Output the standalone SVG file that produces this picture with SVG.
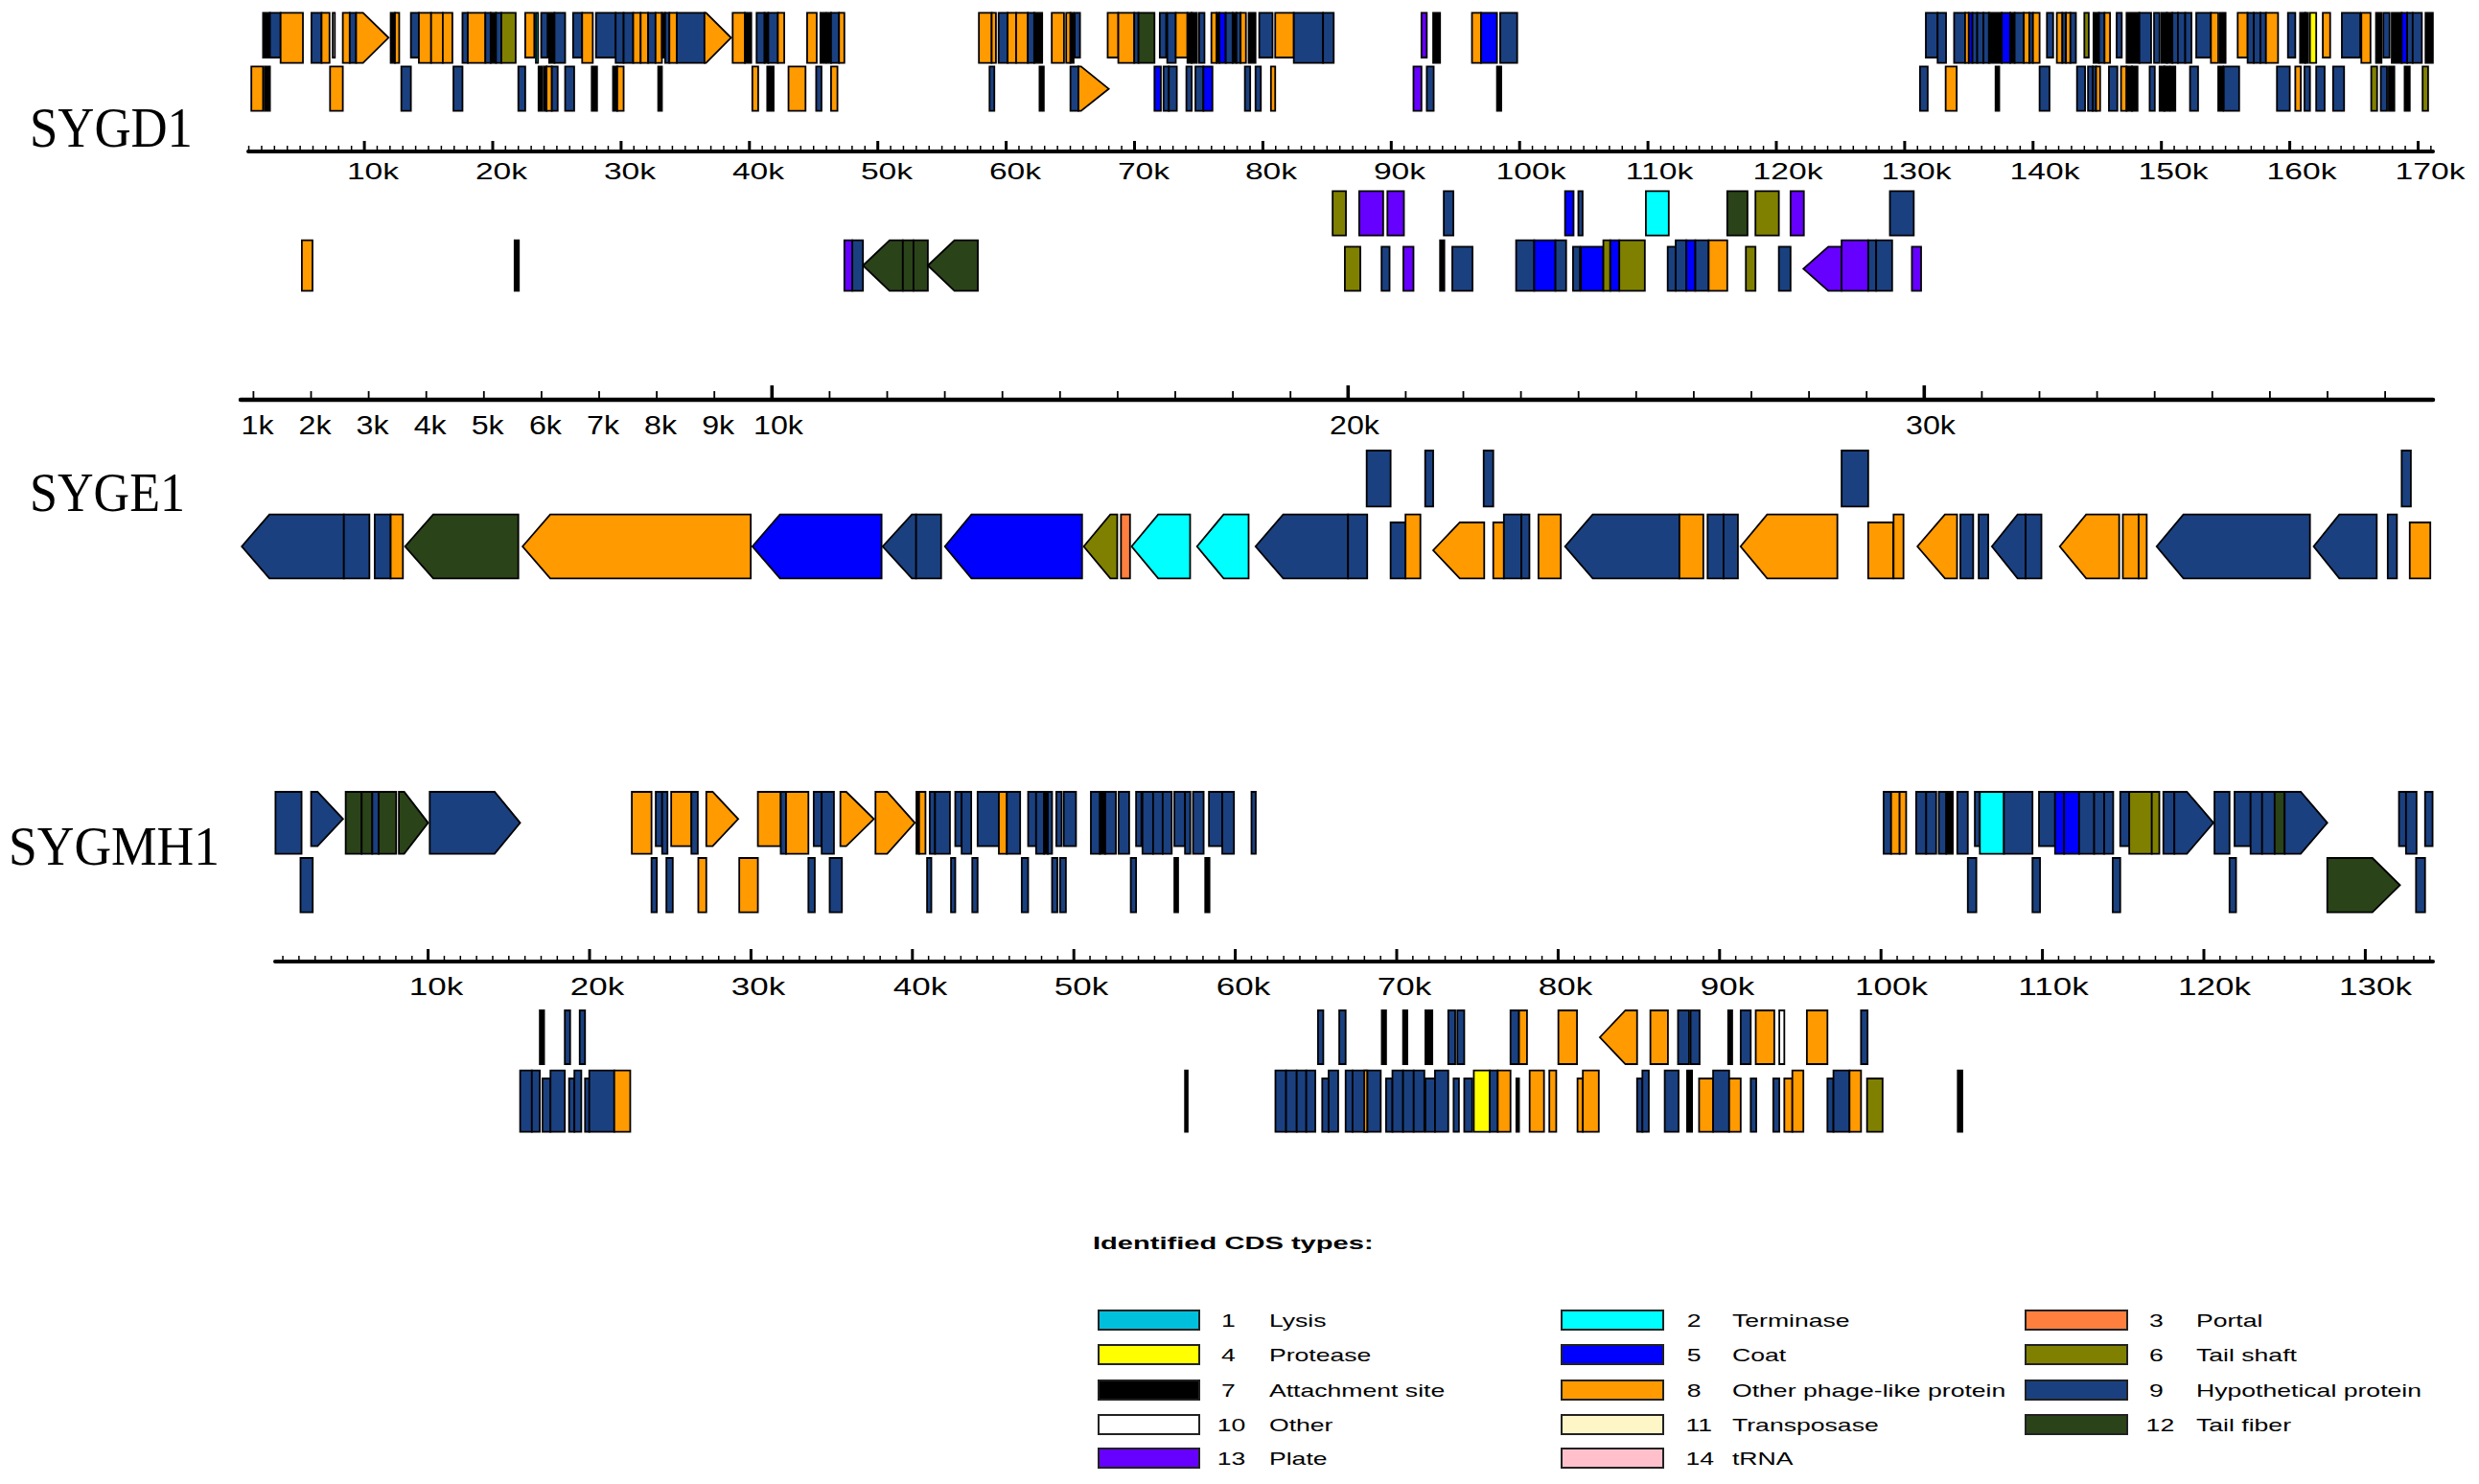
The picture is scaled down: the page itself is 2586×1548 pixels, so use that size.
<svg xmlns="http://www.w3.org/2000/svg" width="2586" height="1548" viewBox="0 0 2586 1548">
<style>
.gn rect,.gn polygon{stroke:#000;stroke-width:1.8;vector-effect:non-scaling-stroke}
.n{fill:#1a4080}.o{fill:#ff9a00}.k{fill:#000}.c{fill:#0000ff}.t{fill:#00ffff}.p{fill:#ff7f3f}.y{fill:#ffff00}.s{fill:#808000}.f{fill:#2a4319}.pl{fill:#6600ff}.w{fill:#fff}.ly{fill:#00bfdd}.tp{fill:#fff6c8}.tr{fill:#ffc0cb}
.ax{stroke:#000;fill:none}
.tk{font-family:"Liberation Sans",Arial,sans-serif;text-anchor:middle;fill:#000}
.nm{font-family:"Liberation Serif","Times New Roman",serif;fill:#000}
.lg{font-family:"Liberation Sans",Arial,sans-serif;font-size:19px;fill:#000}
.sw{stroke:#222;stroke-width:2}
</style>
<rect width="2586" height="1548" fill="#fff"/>

<!-- ===== SYGD1 ===== -->
<g id="SYGD1">
<text class="nm" x="31" y="153" font-size="60" textLength="170" lengthAdjust="spacingAndGlyphs">SYGD1</text>
<g id="SYGD1-axis">
<line class="ax" x1="259" y1="158" x2="2538" y2="158" stroke-width="4" stroke-linecap="round"/>
<line class="ax" x1="258.8" y1="155" x2="2540" y2="155" stroke-width="6" stroke-dasharray="1.5 11.89"/>
<line class="ax" x1="378.6" y1="152.5" x2="2525" y2="152.5" stroke-width="11" stroke-dasharray="3 130.9"/>
<g font-size="24">
<text class="tk" transform="translate(389,187) scale(1.4,1)">10k</text>
<text class="tk" transform="translate(523,187) scale(1.4,1)">20k</text>
<text class="tk" transform="translate(657,187) scale(1.4,1)">30k</text>
<text class="tk" transform="translate(791,187) scale(1.4,1)">40k</text>
<text class="tk" transform="translate(925,187) scale(1.4,1)">50k</text>
<text class="tk" transform="translate(1059,187) scale(1.4,1)">60k</text>
<text class="tk" transform="translate(1193,187) scale(1.4,1)">70k</text>
<text class="tk" transform="translate(1326,187) scale(1.4,1)">80k</text>
<text class="tk" transform="translate(1460,187) scale(1.4,1)">90k</text>
<text class="tk" transform="translate(1597,187) scale(1.4,1)">100k</text>
<text class="tk" transform="translate(1731,187) scale(1.4,1)">110k</text>
<text class="tk" transform="translate(1865,187) scale(1.4,1)">120k</text>
<text class="tk" transform="translate(1999,187) scale(1.4,1)">130k</text>
<text class="tk" transform="translate(2133,187) scale(1.4,1)">140k</text>
<text class="tk" transform="translate(2267,187) scale(1.4,1)">150k</text>
<text class="tk" transform="translate(2401,187) scale(1.4,1)">160k</text>
<text class="tk" transform="translate(2535,187) scale(1.4,1)">170k</text>
</g>
</g>
<g class="gn" transform="translate(240,0) scale(0.5548,0.33333)">
<rect class="k" x="62" y="40" width="13" height="140"/>
<rect class="n" x="75" y="40" width="20" height="140"/>
<rect class="o" x="95" y="40" width="42" height="157"/>
<rect class="n" x="153" y="40" width="19" height="157"/>
<rect class="o" x="172" y="40" width="15" height="157"/>
<rect class="w" x="193" y="40" width="4" height="140"/>
<rect class="o" x="212" y="40" width="13" height="157"/>
<rect class="n" x="225" y="40" width="12" height="157"/>
<polygon class="o" points="237,40 250,40 298,118 250,197 237,197"/>
<rect class="k" x="302" y="40" width="8" height="157"/>
<rect class="o" x="310" y="40" width="8" height="157"/>
<rect class="n" x="340" y="40" width="15" height="140"/>
<rect class="o" x="355" y="40" width="23" height="157"/>
<rect class="o" x="378" y="40" width="22" height="157"/>
<rect class="o" x="400" y="40" width="18" height="157"/>
<rect class="n" x="437" y="40" width="10" height="157"/>
<rect class="o" x="447" y="40" width="33" height="157"/>
<rect class="n" x="480" y="40" width="10" height="157"/>
<rect class="k" x="490" y="40" width="10" height="157"/>
<rect class="n" x="500" y="40" width="10" height="157"/>
<rect class="s" x="510" y="40" width="27" height="157"/>
<rect class="o" x="555" y="40" width="17" height="140"/>
<rect class="t" x="575" y="40" width="4" height="157"/>
<rect class="n" x="585" y="40" width="12" height="140"/>
<rect class="k" x="600" y="40" width="10" height="157"/>
<rect class="n" x="610" y="40" width="20" height="157"/>
<rect class="n" x="645" y="40" width="17" height="140"/>
<rect class="o" x="662" y="40" width="20" height="157"/>
<rect class="n" x="688" y="40" width="37" height="140"/>
<rect class="n" x="725" y="40" width="15" height="157"/>
<rect class="n" x="740" y="40" width="18" height="157"/>
<rect class="o" x="758" y="40" width="14" height="157"/>
<rect class="o" x="772" y="40" width="14" height="157"/>
<rect class="n" x="786" y="40" width="14" height="157"/>
<rect class="o" x="800" y="40" width="12" height="157"/>
<rect class="k" x="812" y="40" width="6" height="140"/>
<rect class="n" x="818" y="40" width="8" height="157"/>
<rect class="o" x="826" y="40" width="14" height="157"/>
<rect class="n" x="840" y="40" width="52" height="157"/>
<polygon class="o" points="892,40 895,40 942,118 895,197 892,197"/>
<rect class="o" x="945" y="40" width="23" height="157"/>
<rect class="k" x="968" y="40" width="12" height="157"/>
<rect class="n" x="990" y="40" width="15" height="157"/>
<rect class="k" x="1005" y="40" width="7" height="157"/>
<rect class="n" x="1012" y="40" width="18" height="157"/>
<rect class="o" x="1030" y="40" width="12" height="157"/>
<rect class="o" x="1085" y="40" width="18" height="157"/>
<rect class="k" x="1110" y="40" width="10" height="157"/>
<rect class="k" x="1122" y="40" width="8" height="157"/>
<rect class="n" x="1130" y="40" width="15" height="157"/>
<rect class="o" x="1145" y="40" width="10" height="157"/>
<rect class="o" x="1408" y="40" width="24" height="157"/>
<rect class="o" x="1432" y="40" width="8" height="157"/>
<rect class="n" x="1445" y="40" width="17" height="157"/>
<rect class="o" x="1462" y="40" width="16" height="157"/>
<rect class="o" x="1478" y="40" width="22" height="157"/>
<rect class="n" x="1500" y="40" width="12" height="157"/>
<rect class="k" x="1512" y="40" width="15" height="157"/>
<rect class="o" x="1545" y="40" width="23" height="157"/>
<!-- row B -->
<rect class="o" x="40" y="208" width="22" height="139"/>
<rect class="k" x="65" y="208" width="10" height="139"/>
<rect class="o" x="188" y="208" width="24" height="139"/>
<rect class="n" x="322" y="208" width="18" height="139"/>
<rect class="n" x="420" y="208" width="17" height="139"/>
<rect class="n" x="542" y="208" width="13" height="139"/>
<rect class="k" x="580" y="208" width="7" height="139"/>
<rect class="k" x="590" y="208" width="5" height="139"/>
<rect class="o" x="595" y="208" width="10" height="139"/>
<rect class="n" x="605" y="208" width="11" height="139"/>
<rect class="n" x="630" y="208" width="17" height="139"/>
<rect class="k" x="680" y="208" width="10" height="139"/>
<rect class="k" x="720" y="208" width="8" height="139"/>
<rect class="o" x="728" y="208" width="12" height="139"/>
<rect class="k" x="805" y="208" width="7" height="139"/>
<rect class="o" x="982" y="208" width="11" height="139"/>
<rect class="k" x="1010" y="208" width="12" height="139"/>
<rect class="o" x="1050" y="208" width="32" height="139"/>
<rect class="n" x="1102" y="208" width="10" height="139"/>
<rect class="o" x="1130" y="208" width="12" height="139"/>
<rect class="n" x="1428" y="208" width="9" height="139"/>
<rect class="k" x="1522" y="208" width="8" height="139"/>
<!-- lower rows -->
<rect class="o" x="135" y="752" width="20" height="158"/>
<rect class="k" x="535" y="752" width="8" height="158"/>
<rect class="pl" x="1155" y="752" width="15" height="158"/>
<rect class="n" x="1170" y="752" width="20" height="158"/>
<polygon class="f" points="1190,831 1240,752 1265,752 1265,910 1240,910"/>
<rect class="f" x="1265" y="752" width="20" height="158"/>
<rect class="f" x="1285" y="752" width="27" height="158"/>
<polygon class="f" points="1312,831 1362,752 1406,752 1406,910 1362,910"/>
</g>
<g class="gn" transform="translate(1100,0) scale(0.5548,0.33333)">
<rect class="o" x="22" y="40" width="8" height="157"/>
<rect class="k" x="30" y="40" width="6" height="157"/>
<rect class="n" x="38" y="40" width="10" height="140"/>
<rect class="o" x="100" y="40" width="20" height="140"/>
<rect class="o" x="120" y="40" width="30" height="157"/>
<rect class="n" x="150" y="40" width="8" height="157"/>
<rect class="f" x="158" y="40" width="30" height="157"/>
<rect class="n" x="198" y="40" width="12" height="140"/>
<rect class="n" x="212" y="40" width="16" height="157"/>
<rect class="o" x="228" y="40" width="22" height="140"/>
<rect class="k" x="250" y="40" width="8" height="157"/>
<rect class="k" x="258" y="40" width="10" height="157"/>
<rect class="n" x="272" y="40" width="10" height="157"/>
<rect class="o" x="295" y="40" width="10" height="157"/>
<rect class="k" x="305" y="40" width="5" height="157"/>
<rect class="c" x="310" y="40" width="12" height="157"/>
<rect class="n" x="322" y="40" width="13" height="157"/>
<rect class="k" x="335" y="40" width="7" height="157"/>
<rect class="n" x="342" y="40" width="8" height="157"/>
<rect class="o" x="350" y="40" width="10" height="157"/>
<rect class="k" x="365" y="40" width="13" height="157"/>
<rect class="n" x="385" y="40" width="25" height="140"/>
<rect class="o" x="415" y="40" width="35" height="140"/>
<rect class="n" x="450" y="40" width="55" height="157"/>
<rect class="n" x="505" y="40" width="20" height="157"/>
<rect class="pl" x="690" y="40" width="10" height="140"/>
<rect class="k" x="712" y="40" width="13" height="157"/>
<rect class="o" x="785" y="40" width="17" height="157"/>
<rect class="c" x="802" y="40" width="30" height="157"/>
<rect class="n" x="838" y="40" width="32" height="157"/>
<!-- row B -->
<rect class="n" x="30" y="208" width="15" height="139"/>
<polygon class="o" points="45,208 50,208 102,278 50,347 45,347"/>
<rect class="c" x="188" y="208" width="12" height="139"/>
<rect class="n" x="205" y="208" width="10" height="139"/>
<rect class="n" x="215" y="208" width="15" height="139"/>
<rect class="n" x="248" y="208" width="10" height="139"/>
<rect class="n" x="265" y="208" width="15" height="139"/>
<rect class="c" x="280" y="208" width="17" height="139"/>
<rect class="n" x="358" y="208" width="10" height="139"/>
<rect class="n" x="378" y="208" width="10" height="139"/>
<rect class="o" x="407" y="208" width="8" height="139"/>
<rect class="pl" x="675" y="208" width="15" height="139"/>
<rect class="n" x="700" y="208" width="13" height="139"/>
<rect class="k" x="832" y="208" width="8" height="139"/>
<!-- row C -->
<rect class="s" x="523" y="598" width="25" height="139"/>
<rect class="pl" x="573" y="598" width="45" height="139"/>
<rect class="pl" x="626" y="598" width="31" height="139"/>
<rect class="n" x="732" y="598" width="18" height="139"/>
<rect class="c" x="960" y="598" width="16" height="139"/>
<rect class="n" x="985" y="598" width="8" height="139"/>
<rect class="t" x="1112" y="598" width="43" height="139"/>
<rect class="f" x="1265" y="598" width="38" height="139"/>
<rect class="s" x="1318" y="598" width="44" height="139"/>
<rect class="pl" x="1384" y="598" width="25" height="139"/>
<!-- row D -->
<rect class="s" x="546" y="772" width="29" height="138"/>
<rect class="n" x="615" y="772" width="15" height="138"/>
<rect class="pl" x="656" y="772" width="19" height="138"/>
<rect class="k" x="725" y="752" width="8" height="158"/>
<rect class="n" x="748" y="772" width="38" height="138"/>
<rect class="n" x="868" y="752" width="34" height="158"/>
<rect class="c" x="902" y="752" width="40" height="158"/>
<rect class="n" x="942" y="752" width="20" height="158"/>
<rect class="n" x="975" y="772" width="13" height="138"/>
<rect class="c" x="990" y="772" width="42" height="138"/>
<rect class="s" x="1032" y="752" width="13" height="158"/>
<rect class="c" x="1045" y="752" width="17" height="158"/>
<rect class="s" x="1062" y="752" width="48" height="158"/>
<rect class="n" x="1153" y="772" width="15" height="138"/>
<rect class="n" x="1168" y="752" width="20" height="158"/>
<rect class="c" x="1188" y="752" width="17" height="158"/>
<rect class="n" x="1205" y="752" width="25" height="158"/>
<rect class="o" x="1230" y="752" width="35" height="158"/>
<rect class="s" x="1300" y="772" width="18" height="138"/>
<rect class="n" x="1362" y="772" width="22" height="138"/>
<polygon class="pl" points="1408,841 1455,772 1480,772 1480,910 1455,910"/>
<rect class="pl" x="1480" y="752" width="50" height="158"/>
<rect class="n" x="1530" y="752" width="15" height="158"/>
<rect class="n" x="1545" y="752" width="30" height="158"/>
</g>
<g class="gn" transform="translate(1960,0) scale(0.3827,0.33333)">
<rect class="n" x="30" y="598" width="65" height="139"/>
<rect class="pl" x="90" y="772" width="25" height="138"/>
<rect class="n" x="128" y="40" width="32" height="140"/>
<rect class="n" x="160" y="40" width="23" height="157"/>
<rect class="n" x="205" y="40" width="30" height="157"/>
<rect class="o" x="235" y="40" width="10" height="157"/>
<rect class="c" x="245" y="40" width="10" height="157"/>
<rect class="n" x="255" y="40" width="13" height="157"/>
<rect class="n" x="268" y="40" width="17" height="157"/>
<rect class="n" x="285" y="40" width="15" height="157"/>
<rect class="k" x="300" y="40" width="35" height="157"/>
<rect class="c" x="335" y="40" width="23" height="157"/>
<rect class="k" x="358" y="40" width="12" height="157"/>
<rect class="n" x="370" y="40" width="25" height="157"/>
<rect class="o" x="395" y="40" width="15" height="157"/>
<rect class="n" x="410" y="40" width="10" height="157"/>
<rect class="o" x="420" y="40" width="18" height="157"/>
<rect class="n" x="458" y="40" width="17" height="140"/>
<rect class="o" x="485" y="40" width="15" height="157"/>
<rect class="n" x="500" y="40" width="10" height="157"/>
<rect class="o" x="510" y="40" width="12" height="157"/>
<rect class="n" x="522" y="40" width="15" height="157"/>
<rect class="s" x="560" y="40" width="12" height="140"/>
<rect class="k" x="585" y="40" width="15" height="157"/>
<rect class="n" x="600" y="40" width="15" height="157"/>
<rect class="o" x="615" y="40" width="15" height="157"/>
<rect class="n" x="648" y="40" width="14" height="140"/>
<rect class="k" x="675" y="40" width="35" height="157"/>
<rect class="n" x="710" y="40" width="32" height="157"/>
<rect class="n" x="750" y="40" width="15" height="157"/>
<rect class="k" x="770" y="40" width="15" height="157"/>
<rect class="k" x="785" y="40" width="15" height="157"/>
<rect class="n" x="800" y="40" width="15" height="157"/>
<rect class="n" x="815" y="40" width="20" height="157"/>
<rect class="n" x="835" y="40" width="17" height="157"/>
<rect class="n" x="865" y="40" width="40" height="140"/>
<rect class="o" x="905" y="40" width="20" height="157"/>
<rect class="k" x="930" y="40" width="15" height="157"/>
<rect class="o" x="978" y="40" width="27" height="140"/>
<rect class="n" x="1005" y="40" width="17" height="157"/>
<rect class="n" x="1022" y="40" width="18" height="157"/>
<rect class="n" x="1040" y="40" width="15" height="157"/>
<rect class="o" x="1055" y="40" width="33" height="157"/>
<rect class="n" x="1115" y="40" width="20" height="140"/>
<rect class="k" x="1148" y="40" width="14" height="157"/>
<rect class="k" x="1162" y="40" width="8" height="157"/>
<rect class="y" x="1175" y="40" width="17" height="157"/>
<rect class="o" x="1210" y="40" width="20" height="140"/>
<rect class="n" x="1262" y="40" width="50" height="140"/>
<rect class="o" x="1315" y="40" width="25" height="157"/>
<rect class="k" x="1355" y="40" width="15" height="157"/>
<rect class="n" x="1375" y="40" width="17" height="140"/>
<rect class="k" x="1398" y="40" width="27" height="157"/>
<rect class="c" x="1425" y="40" width="15" height="157"/>
<rect class="n" x="1440" y="40" width="15" height="157"/>
<rect class="n" x="1455" y="40" width="25" height="157"/>
<rect class="k" x="1490" y="40" width="20" height="157"/>
<!-- row B -->
<rect class="n" x="112" y="208" width="21" height="139"/>
<rect class="o" x="182" y="208" width="30" height="139"/>
<rect class="k" x="318" y="208" width="10" height="139"/>
<rect class="n" x="438" y="208" width="27" height="139"/>
<rect class="n" x="540" y="208" width="22" height="139"/>
<rect class="n" x="570" y="208" width="13" height="139"/>
<rect class="n" x="583" y="208" width="9" height="139"/>
<rect class="o" x="592" y="208" width="11" height="139"/>
<rect class="n" x="627" y="208" width="23" height="139"/>
<rect class="o" x="660" y="208" width="15" height="139"/>
<rect class="k" x="675" y="208" width="15" height="139"/>
<rect class="k" x="690" y="208" width="15" height="139"/>
<rect class="n" x="738" y="208" width="14" height="139"/>
<rect class="k" x="765" y="208" width="13" height="139"/>
<rect class="k" x="778" y="208" width="14" height="139"/>
<rect class="k" x="795" y="208" width="13" height="139"/>
<rect class="n" x="848" y="208" width="22" height="139"/>
<rect class="k" x="925" y="208" width="13" height="139"/>
<rect class="n" x="940" y="208" width="42" height="139"/>
<rect class="n" x="1085" y="208" width="35" height="139"/>
<rect class="o" x="1135" y="208" width="15" height="139"/>
<rect class="n" x="1160" y="208" width="15" height="139"/>
<rect class="n" x="1192" y="208" width="23" height="139"/>
<rect class="n" x="1238" y="208" width="30" height="139"/>
<rect class="s" x="1342" y="208" width="16" height="139"/>
<rect class="n" x="1368" y="208" width="17" height="139"/>
<rect class="k" x="1390" y="208" width="15" height="139"/>
<rect class="k" x="1433" y="208" width="14" height="139"/>
<rect class="s" x="1482" y="208" width="15" height="139"/>
</g>
</g>

<!-- ===== SYGE1 ===== -->
<g id="SYGE1">
<text class="nm" x="31" y="533" font-size="57" textLength="162" lengthAdjust="spacingAndGlyphs">SYGE1</text>
<g id="SYGE1-axis">
<line class="ax" x1="251" y1="417" x2="2538" y2="417" stroke-width="4.5" stroke-linecap="round"/>
<line class="ax" x1="263.5" y1="412.5" x2="2492" y2="412.5" stroke-width="9" stroke-dasharray="1.8 58.3"/>
<line class="ax" x1="803.5" y1="409.5" x2="2010" y2="409.5" stroke-width="15" stroke-dasharray="3.6 597.4"/>
<g font-size="28">
<text class="tk" transform="translate(268.5,453) scale(1.15,1)">1k</text>
<text class="tk" transform="translate(328.5,453) scale(1.15,1)">2k</text>
<text class="tk" transform="translate(388.6,453) scale(1.15,1)">3k</text>
<text class="tk" transform="translate(448.7,453) scale(1.15,1)">4k</text>
<text class="tk" transform="translate(508.7,453) scale(1.15,1)">5k</text>
<text class="tk" transform="translate(568.9,453) scale(1.15,1)">6k</text>
<text class="tk" transform="translate(629,453) scale(1.15,1)">7k</text>
<text class="tk" transform="translate(689.1,453) scale(1.15,1)">8k</text>
<text class="tk" transform="translate(749.2,453) scale(1.15,1)">9k</text>
<text class="tk" transform="translate(812,453) scale(1.15,1)">10k</text>
<text class="tk" transform="translate(1413,453) scale(1.15,1)">20k</text>
<text class="tk" transform="translate(2014,453) scale(1.15,1)">30k</text>
</g>
</g>
<g class="gn" transform="translate(230,390) scale(0.5548,0.33333)">
<polygon class="n" points="40,540 92,440 232,440 232,640 92,640"/>
<rect class="n" x="232" y="440" width="48" height="200"/>
<rect class="n" x="290" y="440" width="30" height="200"/>
<rect class="o" x="320" y="440" width="23" height="200"/>
<polygon class="f" points="347,540 400,440 560,440 560,640 400,640"/>
<polygon class="o" points="568,540 620,440 997,440 997,640 620,640"/>
<polygon class="c" points="1000,540 1052,440 1243,440 1243,640 1052,640"/>
<polygon class="n" points="1245,540 1300,440 1308,440 1308,640 1300,640"/>
<rect class="n" x="1308" y="440" width="47" height="200"/>
<polygon class="c" points="1362,540 1412,440 1620,440 1620,640 1412,640"/>
</g>
<g class="gn" transform="translate(1100,390) scale(0.5548,0.33333)">
<polygon class="s" points="55,540 105,440 118,440 118,640 105,640"/>
<rect class="p" x="125" y="440" width="17" height="200"/>
<polygon class="t" points="145,540 195,440 255,440 255,640 195,640"/>
<polygon class="t" points="268,540 318,440 365,440 365,640 318,640"/>
<polygon class="n" points="378,540 430,440 552,440 552,640 430,640"/>
<rect class="n" x="552" y="440" width="36" height="200"/>
<rect class="n" x="632" y="465" width="28" height="175"/>
<rect class="o" x="660" y="440" width="28" height="200"/>
<polygon class="o" points="712,552 762,465 808,465 808,640 762,640"/>
<rect class="o" x="825" y="465" width="20" height="175"/>
<rect class="n" x="845" y="440" width="33" height="200"/>
<rect class="n" x="878" y="440" width="15" height="200"/>
<rect class="o" x="910" y="440" width="42" height="200"/>
<polygon class="n" points="960,540 1012,440 1175,440 1175,640 1012,640"/>
<rect class="o" x="1175" y="440" width="45" height="200"/>
<rect class="n" x="1228" y="440" width="30" height="200"/>
<rect class="n" x="1258" y="440" width="27" height="200"/>
<polygon class="o" points="1290,540 1340,440 1472,440 1472,640 1340,640"/>
<rect class="o" x="1530" y="465" width="47" height="175"/>
<rect class="n" x="587" y="240" width="45" height="175"/>
<rect class="n" x="697" y="240" width="15" height="175"/>
<rect class="n" x="807" y="240" width="18" height="175"/>
<rect class="n" x="1480" y="240" width="50" height="175"/>
</g>
<g class="gn" transform="translate(1960,390) scale(0.3827,0.33333)">
<rect class="o" x="40" y="440" width="27" height="200"/>
<polygon class="o" points="105,540 180,440 213,440 213,640 180,640"/>
<rect class="n" x="222" y="440" width="35" height="200"/>
<rect class="n" x="272" y="440" width="26" height="200"/>
<polygon class="n" points="308,540 378,440 400,440 400,640 378,640"/>
<rect class="n" x="400" y="440" width="43" height="200"/>
<polygon class="o" points="493,540 565,440 655,440 655,640 565,640"/>
<rect class="o" x="665" y="440" width="43" height="200"/>
<rect class="o" x="708" y="440" width="22" height="200"/>
<polygon class="n" points="757,540 830,440 1175,440 1175,640 830,640"/>
<polygon class="n" points="1185,540 1255,440 1357,440 1357,640 1255,640"/>
<rect class="n" x="1387" y="440" width="25" height="200"/>
<rect class="o" x="1447" y="465" width="56" height="175"/>
<rect class="n" x="1425" y="240" width="25" height="175"/>
</g>
</g>

<!-- ===== SYGMH1 ===== -->
<g id="SYGMH1">
<text class="nm" x="9" y="902" font-size="56" textLength="220" lengthAdjust="spacingAndGlyphs">SYGMH1</text>
<g id="SYGMH1-axis">
<line class="ax" x1="287" y1="1003" x2="2538" y2="1003" stroke-width="4" stroke-linecap="round"/>
<line class="ax" x1="294.3" y1="1000" x2="2538" y2="1000" stroke-width="6" stroke-dasharray="1.5 15.34"/>
<line class="ax" x1="445.1" y1="996.5" x2="2470" y2="996.5" stroke-width="13" stroke-dasharray="3 165.4"/>
<g font-size="25">
<text class="tk" transform="translate(455,1038) scale(1.4,1)">10k</text>
<text class="tk" transform="translate(623,1038) scale(1.4,1)">20k</text>
<text class="tk" transform="translate(791,1038) scale(1.4,1)">30k</text>
<text class="tk" transform="translate(960,1038) scale(1.4,1)">40k</text>
<text class="tk" transform="translate(1128,1038) scale(1.4,1)">50k</text>
<text class="tk" transform="translate(1297,1038) scale(1.4,1)">60k</text>
<text class="tk" transform="translate(1465,1038) scale(1.4,1)">70k</text>
<text class="tk" transform="translate(1633,1038) scale(1.4,1)">80k</text>
<text class="tk" transform="translate(1802,1038) scale(1.4,1)">90k</text>
<text class="tk" transform="translate(1973,1038) scale(1.4,1)">100k</text>
<text class="tk" transform="translate(2142,1038) scale(1.4,1)">110k</text>
<text class="tk" transform="translate(2310,1038) scale(1.4,1)">120k</text>
<text class="tk" transform="translate(2478,1038) scale(1.4,1)">130k</text>
</g>
</g>
<g class="gn" transform="translate(0,810) scale(0.5548,0.33333)">
<rect class="n" x="518" y="48" width="49" height="194"/>
<polygon class="n" points="585,48 597,48 645,133 597,218 585,218"/>
<rect class="f" x="650" y="48" width="30" height="194"/>
<rect class="f" x="680" y="48" width="20" height="194"/>
<rect class="n" x="700" y="48" width="12" height="194"/>
<rect class="f" x="712" y="48" width="33" height="194"/>
<polygon class="f" points="750,48 760,48 805,145 760,242 750,242"/>
<polygon class="n" points="808,48 930,48 978,145 930,242 808,242"/>
<rect class="o" x="1188" y="48" width="37" height="194"/>
<rect class="n" x="1233" y="48" width="12" height="170"/>
<rect class="n" x="1245" y="48" width="10" height="194"/>
<rect class="o" x="1262" y="48" width="38" height="170"/>
<rect class="n" x="1300" y="48" width="12" height="194"/>
<polygon class="o" points="1328,48 1340,48 1388,133 1340,218 1328,218"/>
<rect class="o" x="1425" y="48" width="43" height="170"/>
<rect class="n" x="1468" y="48" width="10" height="194"/>
<rect class="o" x="1478" y="48" width="42" height="194"/>
<rect class="n" x="1530" y="48" width="15" height="170"/>
<rect class="n" x="1545" y="48" width="23" height="194"/>
<rect class="n" x="565" y="255" width="23" height="170"/>
<rect class="n" x="1225" y="255" width="10" height="170"/>
<rect class="n" x="1253" y="255" width="12" height="170"/>
<rect class="o" x="1313" y="255" width="15" height="170"/>
<rect class="o" x="1390" y="255" width="35" height="170"/>
<rect class="n" x="1520" y="255" width="12" height="170"/>
<rect class="n" x="1560" y="255" width="23" height="170"/>
<rect class="k" x="1015" y="732" width="8" height="168"/>
<rect class="n" x="1062" y="732" width="10" height="168"/>
<rect class="n" x="1090" y="732" width="10" height="168"/>
<rect class="n" x="978" y="920" width="22" height="192"/>
<rect class="n" x="1000" y="920" width="15" height="192"/>
<rect class="n" x="1020" y="945" width="15" height="167"/>
<rect class="n" x="1035" y="920" width="27" height="192"/>
<rect class="n" x="1070" y="945" width="10" height="167"/>
<rect class="n" x="1080" y="920" width="13" height="192"/>
<rect class="n" x="1100" y="945" width="8" height="167"/>
<rect class="n" x="1108" y="920" width="47" height="192"/>
<rect class="o" x="1155" y="920" width="30" height="192"/>
</g>
<g class="gn" transform="translate(870,810) scale(0.5548,0.33333)">
<polygon class="o" points="12,48 23,48 75,133 23,218 12,218"/>
<polygon class="o" points="78,48 100,48 152,145 100,242 78,242"/>
<rect class="k" x="155" y="48" width="5" height="194"/>
<rect class="o" x="160" y="48" width="12" height="194"/>
<rect class="n" x="180" y="48" width="10" height="194"/>
<rect class="n" x="190" y="48" width="28" height="194"/>
<rect class="n" x="228" y="48" width="12" height="170"/>
<rect class="n" x="240" y="48" width="18" height="194"/>
<rect class="n" x="270" y="48" width="40" height="170"/>
<rect class="o" x="310" y="48" width="15" height="194"/>
<rect class="n" x="325" y="48" width="25" height="194"/>
<rect class="n" x="365" y="48" width="15" height="170"/>
<rect class="n" x="380" y="48" width="15" height="194"/>
<rect class="k" x="395" y="48" width="7" height="194"/>
<rect class="n" x="402" y="48" width="8" height="194"/>
<rect class="n" x="418" y="48" width="10" height="170"/>
<rect class="n" x="432" y="48" width="23" height="170"/>
<rect class="n" x="483" y="48" width="17" height="194"/>
<rect class="k" x="500" y="48" width="10" height="194"/>
<rect class="n" x="510" y="48" width="20" height="194"/>
<rect class="n" x="535" y="48" width="20" height="194"/>
<rect class="n" x="568" y="48" width="10" height="170"/>
<rect class="n" x="580" y="48" width="20" height="194"/>
<rect class="n" x="600" y="48" width="18" height="194"/>
<rect class="n" x="618" y="48" width="17" height="194"/>
<rect class="n" x="640" y="48" width="20" height="170"/>
<rect class="n" x="660" y="48" width="10" height="194"/>
<rect class="n" x="675" y="48" width="20" height="194"/>
<rect class="n" x="705" y="48" width="25" height="170"/>
<rect class="n" x="730" y="48" width="22" height="194"/>
<rect class="n" x="785" y="48" width="8" height="194"/>
<rect class="n" x="175" y="255" width="8" height="170"/>
<rect class="n" x="220" y="255" width="8" height="170"/>
<rect class="n" x="260" y="255" width="10" height="170"/>
<rect class="n" x="353" y="255" width="12" height="170"/>
<rect class="n" x="410" y="255" width="10" height="170"/>
<rect class="n" x="425" y="255" width="11" height="170"/>
<rect class="n" x="558" y="255" width="10" height="170"/>
<rect class="k" x="640" y="255" width="7" height="170"/>
<rect class="k" x="698" y="255" width="8" height="170"/>
<rect class="n" x="910" y="732" width="10" height="168"/>
<rect class="n" x="950" y="732" width="12" height="168"/>
<rect class="k" x="1030" y="732" width="8" height="168"/>
<rect class="k" x="1070" y="732" width="8" height="168"/>
<rect class="k" x="1112" y="732" width="13" height="168"/>
<rect class="n" x="1155" y="732" width="13" height="168"/>
<rect class="n" x="1172" y="732" width="13" height="168"/>
<rect class="n" x="1272" y="732" width="16" height="168"/>
<rect class="o" x="1288" y="732" width="15" height="168"/>
<rect class="o" x="1362" y="732" width="35" height="168"/>
<polygon class="o" points="1440,816 1488,732 1510,732 1510,900 1488,900"/>
<rect class="o" x="1535" y="732" width="33" height="168"/>
<rect class="k" x="660" y="920" width="5" height="192"/>
<rect class="n" x="830" y="920" width="20" height="192"/>
<rect class="n" x="850" y="920" width="20" height="192"/>
<rect class="n" x="870" y="920" width="18" height="192"/>
<rect class="n" x="888" y="920" width="17" height="192"/>
<rect class="n" x="918" y="945" width="12" height="167"/>
<rect class="n" x="930" y="920" width="18" height="192"/>
<rect class="n" x="962" y="920" width="13" height="192"/>
<rect class="n" x="975" y="920" width="25" height="192"/>
<rect class="o" x="997" y="920" width="6" height="192"/>
<rect class="n" x="1003" y="920" width="25" height="192"/>
<rect class="n" x="1038" y="945" width="12" height="167"/>
<rect class="n" x="1050" y="920" width="20" height="192"/>
<rect class="n" x="1070" y="920" width="20" height="192"/>
<rect class="n" x="1090" y="920" width="20" height="192"/>
<rect class="n" x="1112" y="945" width="18" height="167"/>
<rect class="n" x="1130" y="920" width="25" height="192"/>
<rect class="n" x="1165" y="945" width="10" height="167"/>
<rect class="n" x="1185" y="945" width="15" height="167"/>
<rect class="y" x="1203" y="920" width="30" height="192"/>
<rect class="n" x="1233" y="920" width="15" height="192"/>
<rect class="o" x="1248" y="920" width="24" height="192"/>
<rect class="k" x="1283" y="945" width="5" height="167"/>
<rect class="o" x="1308" y="920" width="27" height="192"/>
<rect class="o" x="1345" y="920" width="13" height="192"/>
<rect class="o" x="1398" y="945" width="10" height="167"/>
<rect class="o" x="1408" y="920" width="30" height="192"/>
<rect class="n" x="1510" y="945" width="10" height="167"/>
<rect class="n" x="1520" y="920" width="12" height="192"/>
<rect class="n" x="1562" y="920" width="26" height="192"/>
</g>
<g class="gn" transform="translate(1740,810) scale(0.523,0.33333)">
<rect class="n" x="430" y="48" width="15" height="194"/>
<rect class="o" x="445" y="48" width="17" height="194"/>
<rect class="o" x="462" y="48" width="13" height="194"/>
<rect class="n" x="495" y="48" width="20" height="194"/>
<rect class="n" x="515" y="48" width="20" height="194"/>
<rect class="n" x="540" y="48" width="15" height="194"/>
<rect class="k" x="555" y="48" width="13" height="194"/>
<rect class="n" x="577" y="48" width="21" height="194"/>
<rect class="n" x="612" y="48" width="10" height="170"/>
<rect class="t" x="622" y="48" width="48" height="194"/>
<rect class="n" x="670" y="48" width="57" height="194"/>
<rect class="n" x="740" y="48" width="32" height="170"/>
<rect class="c" x="772" y="48" width="18" height="194"/>
<rect class="c" x="790" y="48" width="30" height="194"/>
<rect class="n" x="820" y="48" width="30" height="194"/>
<rect class="n" x="850" y="48" width="20" height="194"/>
<rect class="n" x="870" y="48" width="18" height="194"/>
<rect class="n" x="902" y="48" width="18" height="170"/>
<rect class="s" x="920" y="48" width="45" height="194"/>
<rect class="s" x="965" y="48" width="15" height="194"/>
<rect class="n" x="988" y="48" width="22" height="194"/>
<polygon class="n" points="1010,48 1035,48 1088,145 1035,242 1010,242"/>
<rect class="n" x="1090" y="48" width="30" height="194"/>
<rect class="n" x="1130" y="48" width="32" height="170"/>
<rect class="n" x="1162" y="48" width="23" height="194"/>
<rect class="n" x="1185" y="48" width="25" height="194"/>
<rect class="f" x="1210" y="48" width="20" height="194"/>
<polygon class="n" points="1230,48 1262,48 1315,145 1262,242 1230,242"/>
<rect class="n" x="1458" y="48" width="14" height="170"/>
<rect class="n" x="1472" y="48" width="21" height="194"/>
<rect class="n" x="1510" y="48" width="15" height="170"/>
<rect class="n" x="598" y="255" width="17" height="170"/>
<rect class="n" x="727" y="255" width="15" height="170"/>
<rect class="n" x="887" y="255" width="15" height="170"/>
<rect class="n" x="1120" y="255" width="13" height="170"/>
<polygon class="f" points="1315,255 1405,255 1460,340 1405,425 1315,425"/>
<rect class="n" x="1492" y="255" width="18" height="170"/>
<rect class="n" x="20" y="732" width="22" height="168"/>
<rect class="n" x="45" y="732" width="18" height="168"/>
<rect class="k" x="120" y="732" width="8" height="168"/>
<rect class="n" x="145" y="732" width="20" height="168"/>
<rect class="o" x="175" y="732" width="37" height="168"/>
<rect class="w" x="222" y="732" width="10" height="168"/>
<rect class="o" x="277" y="732" width="41" height="168"/>
<rect class="n" x="385" y="732" width="13" height="168"/>
<rect class="k" x="38" y="920" width="10" height="192"/>
<rect class="o" x="62" y="945" width="28" height="167"/>
<rect class="n" x="90" y="920" width="32" height="192"/>
<rect class="o" x="122" y="945" width="23" height="167"/>
<rect class="n" x="165" y="945" width="11" height="167"/>
<rect class="n" x="210" y="945" width="12" height="167"/>
<rect class="o" x="232" y="945" width="16" height="167"/>
<rect class="o" x="248" y="920" width="22" height="192"/>
<rect class="n" x="318" y="945" width="12" height="167"/>
<rect class="n" x="330" y="920" width="32" height="192"/>
<rect class="o" x="362" y="920" width="23" height="192"/>
<rect class="s" x="397" y="945" width="31" height="167"/>
<rect class="k" x="578" y="920" width="9" height="192"/>
</g>
</g>

<!-- ===== Legend ===== -->
<g id="legend">
<rect class="sw ly" x="1146" y="1367" width="105" height="20"/>
<rect class="sw y" x="1146" y="1403" width="105" height="20"/>
<rect class="sw k" x="1146" y="1440" width="105" height="20"/>
<rect class="sw w" x="1146" y="1476" width="105" height="20"/>
<rect class="sw pl" x="1146" y="1511" width="105" height="20"/>
<rect class="sw t" x="1629" y="1367" width="106" height="20"/>
<rect class="sw c" x="1629" y="1403" width="106" height="20"/>
<rect class="sw o" x="1629" y="1440" width="106" height="20"/>
<rect class="sw tp" x="1629" y="1476" width="106" height="20"/>
<rect class="sw tr" x="1629" y="1511" width="106" height="20"/>
<rect class="sw p" x="2113" y="1367" width="106" height="20"/>
<rect class="sw s" x="2113" y="1403" width="106" height="20"/>
<rect class="sw n" x="2113" y="1440" width="106" height="20"/>
<rect class="sw f" x="2113" y="1476" width="106" height="20"/>
<g transform="scale(1.4,1)">
<text class="lg" x="814.3" y="1303" font-size="20.5" font-weight="bold" textLength="209" lengthAdjust="spacingAndGlyphs">Identified CDS types:</text>
<text class="lg" x="910" y="1384">1</text><text class="lg" x="945.7" y="1384">Lysis</text>
<text class="lg" x="910" y="1420">4</text><text class="lg" x="945.7" y="1420">Protease</text>
<text class="lg" x="910" y="1457">7</text><text class="lg" x="945.7" y="1457">Attachment site</text>
<text class="lg" x="907" y="1493">10</text><text class="lg" x="945.7" y="1493">Other</text>
<text class="lg" x="907" y="1528">13</text><text class="lg" x="945.7" y="1528">Plate</text>
<text class="lg" x="1257" y="1384">2</text><text class="lg" x="1290.7" y="1384">Terminase</text>
<text class="lg" x="1257" y="1420">5</text><text class="lg" x="1290.7" y="1420">Coat</text>
<text class="lg" x="1257" y="1457">8</text><text class="lg" x="1290.7" y="1457">Other phage-like protein</text>
<text class="lg" x="1256" y="1493">11</text><text class="lg" x="1290.7" y="1493">Transposase</text>
<text class="lg" x="1256" y="1528">14</text><text class="lg" x="1290.7" y="1528">tRNA</text>
<text class="lg" x="1601.4" y="1384">3</text><text class="lg" x="1636.4" y="1384">Portal</text>
<text class="lg" x="1601.4" y="1420">6</text><text class="lg" x="1636.4" y="1420">Tail shaft</text>
<text class="lg" x="1601.4" y="1457">9</text><text class="lg" x="1636.4" y="1457">Hypothetical protein</text>
<text class="lg" x="1599" y="1493">12</text><text class="lg" x="1636.4" y="1493">Tail fiber</text>
</g>
</g>
</svg>
